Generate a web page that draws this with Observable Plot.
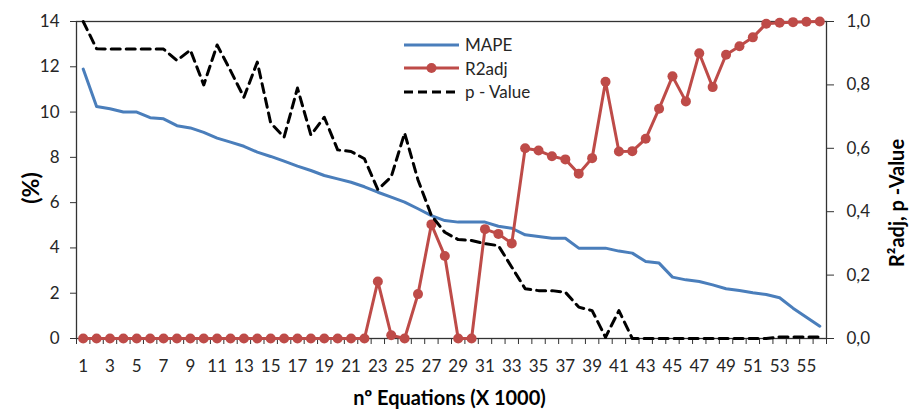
<!DOCTYPE html>
<html>
<head>
<meta charset="utf-8">
<script src="https://cdn.jsdelivr.net/npm/d3@7"></script>
<script src="https://cdn.jsdelivr.net/npm/@observablehq/plot@0.6"></script>
<style>
  html, body { margin: 0; padding: 0; background: #fff; }
  #wrap { position: relative; width: 909px; height: 412px; font-family: Lato, "Open Sans", sans-serif; }
  #legend { position: absolute; left: 404px; top: 33px; font-size: 17px; color: #262626; }
  #legend .row { display: flex; align-items: center; height: 23.5px; }
  #legend svg { margin-right: 6px; }
</style>
</head>
<body>
<div id="wrap"><div id="chart"></div><div id="legend"></div></div>
<script>
// ---- data ----
const categories = [1,2,3,4,5,6,7,8,9,10,11,12,13,14,15,16,17,18,19,20,21,22,23,24,25,26,27,28,29,30,31,32,33,34,35,36,37,38,39,40,41,42,43,44,45,46,47,48,49,50,51,52,53,54,55,56];
const mape = [11.9,10.25,10.15,10.0,10.0,9.75,9.7,9.4,9.3,9.1,
  8.85,8.67,8.49,8.23,8.04,7.83,7.61,7.42,7.2,7.05,
  6.9,6.7,6.46,6.24,6.02,5.73,5.43,5.21,5.14,5.14,
  5.14,4.96,4.87,4.58,4.5,4.43,4.43,3.99,3.99,3.99,
  3.86,3.77,3.4,3.33,2.71,2.59,2.52,2.37,2.2,2.12,
  2.02,1.94,1.8,1.34,0.94,0.54];
const r2adj = [0,0,0,0,0,0,0,0,0,0,0,0,0,0,0,0,0,0,0,0,0,0,
  0.18,0.01,0,0.14,0.36,0.26,0,0,0.345,0.33,0.30,0.6,0.593,0.575,0.565,0.52,0.569,0.81,
  0.59,0.591,0.63,0.725,0.827,0.748,0.9,0.793,0.895,0.922,0.95,0.993,0.996,0.998,0.999,1.0];
const pValue = [1.0,0.914,0.913,0.913,0.913,0.913,0.913,0.877,0.91,0.80,
  0.926,0.845,0.761,0.872,0.68,0.635,0.79,0.642,0.698,0.595,
  0.59,0.567,0.47,0.51,0.648,0.50,0.388,0.335,0.312,0.309,
  0.299,0.293,0.225,0.157,0.151,0.151,0.146,0.099,0.088,0.004,
  0.088,0,0,0,0,0,0,0,0,0,
  0,0,0.005,0.005,0.005,0.005];
const xTickLabels = [1,3,5,7,9,11,13,15,17,19,21,23,25,27,29,31,33,35,37,39,41,43,45,47,49,51,53,55];
const leftTicks = [0,2,4,6,8,10,12,14];
const rightTicks = [0,0.2,0.4,0.6,0.8,1.0];
const seriesNames = ["MAPE","R2adj","p - Value"];

// ---- build ----
const LEFT_MAX = 14;
const rows = categories.map((c, i) => ({n: c, mape: mape[i], r2: r2adj[i], p: pValue[i]}));
const boundaries = [categories[0] - 0.5, ...categories.map(c => c + 0.5)];
const colBlue = "#4A7EBB", colRed = "#BE4B48", colBlack = "#000";

const chart = Plot.plot({
  width: 909, height: 412,
  marginLeft: 76, marginRight: 83, marginTop: 21, marginBottom: 74,
  style: {fontFamily: "Lato, 'Open Sans', sans-serif", fontSize: "17px", color: "#262626", background: "#fff"},
  x: {type: "linear", domain: [categories[0] - 0.5, categories[categories.length - 1] + 0.5]},
  y: {domain: [0, LEFT_MAX]},
  marks: [
    Plot.frame({stroke: "#333", strokeWidth: 1.3}),
    Plot.axisY(leftTicks, {anchor: "left", tickSize: 6, tickPadding: 11, label: null, stroke: "#333"}),
    Plot.axisY(rightTicks.map(v => v * LEFT_MAX), {anchor: "right", tickSize: 7, tickPadding: 13, label: null, stroke: "#333",
      tickFormat: d => (d / LEFT_MAX).toFixed(1).replace(".", ",")}),
    Plot.axisX(boundaries, {anchor: "bottom", tickSize: 6, tickFormat: () => "", label: null, stroke: "#333"}),
    Plot.axisX(xTickLabels, {anchor: "bottom", tickSize: 0, tickPadding: 21, label: null}),
    Plot.line(rows, {x: "n", y: "mape", stroke: colBlue, strokeWidth: 3}),
    Plot.line(rows, {x: "n", y: d => d.r2 * LEFT_MAX, stroke: colRed, strokeWidth: 3}),
    Plot.dot(rows, {x: "n", y: d => d.r2 * LEFT_MAX, r: 5, fill: colRed, stroke: null}),
    Plot.line(rows, {x: "n", y: d => d.p * LEFT_MAX, stroke: colBlack, strokeWidth: 3, strokeDasharray: "9,6"}),
    Plot.text(["(%)"], {text: d => d, frameAnchor: "left", textAnchor: "middle", dx: -45, dy: 8, rotate: -90, fontSize: 23, fontWeight: "bold", fill: "#000", lineAnchor: "middle"}),
    Plot.text(["R²adj, p -Value"], {text: d => d, frameAnchor: "right", textAnchor: "middle", dx: 71, dy: 23, rotate: -90, fontSize: 20, fontWeight: "bold", fill: "#000", lineAnchor: "middle"}),
    Plot.text(["nº Equations (X 1000)"], {text: d => d, frameAnchor: "bottom", textAnchor: "middle", dx: -2, dy: 60, fontSize: 20, fontWeight: "bold", fill: "#000", lineAnchor: "middle"})
  ]
});
document.getElementById("chart").appendChild(chart);

// ---- legend ----
const legend = d3.select("#legend");
const styles = [
  {stroke: colBlue, dash: null, dot: false},
  {stroke: colRed, dash: null, dot: true},
  {stroke: colBlack, dash: "9,5", dot: false}
];
seriesNames.forEach((name, i) => {
  const row = legend.append("div").attr("class", "row");
  const s = row.append("svg").attr("width", 55).attr("height", 14);
  s.append("line").attr("x1", 0).attr("x2", 55).attr("y1", 7).attr("y2", 7)
    .attr("stroke", styles[i].stroke).attr("stroke-width", 3)
    .attr("stroke-dasharray", styles[i].dash);
  if (styles[i].dot) s.append("circle").attr("cx", 27.5).attr("cy", 7).attr("r", 5).attr("fill", styles[i].stroke);
  row.append("span").text(name);
});
</script>
</body>
</html>
